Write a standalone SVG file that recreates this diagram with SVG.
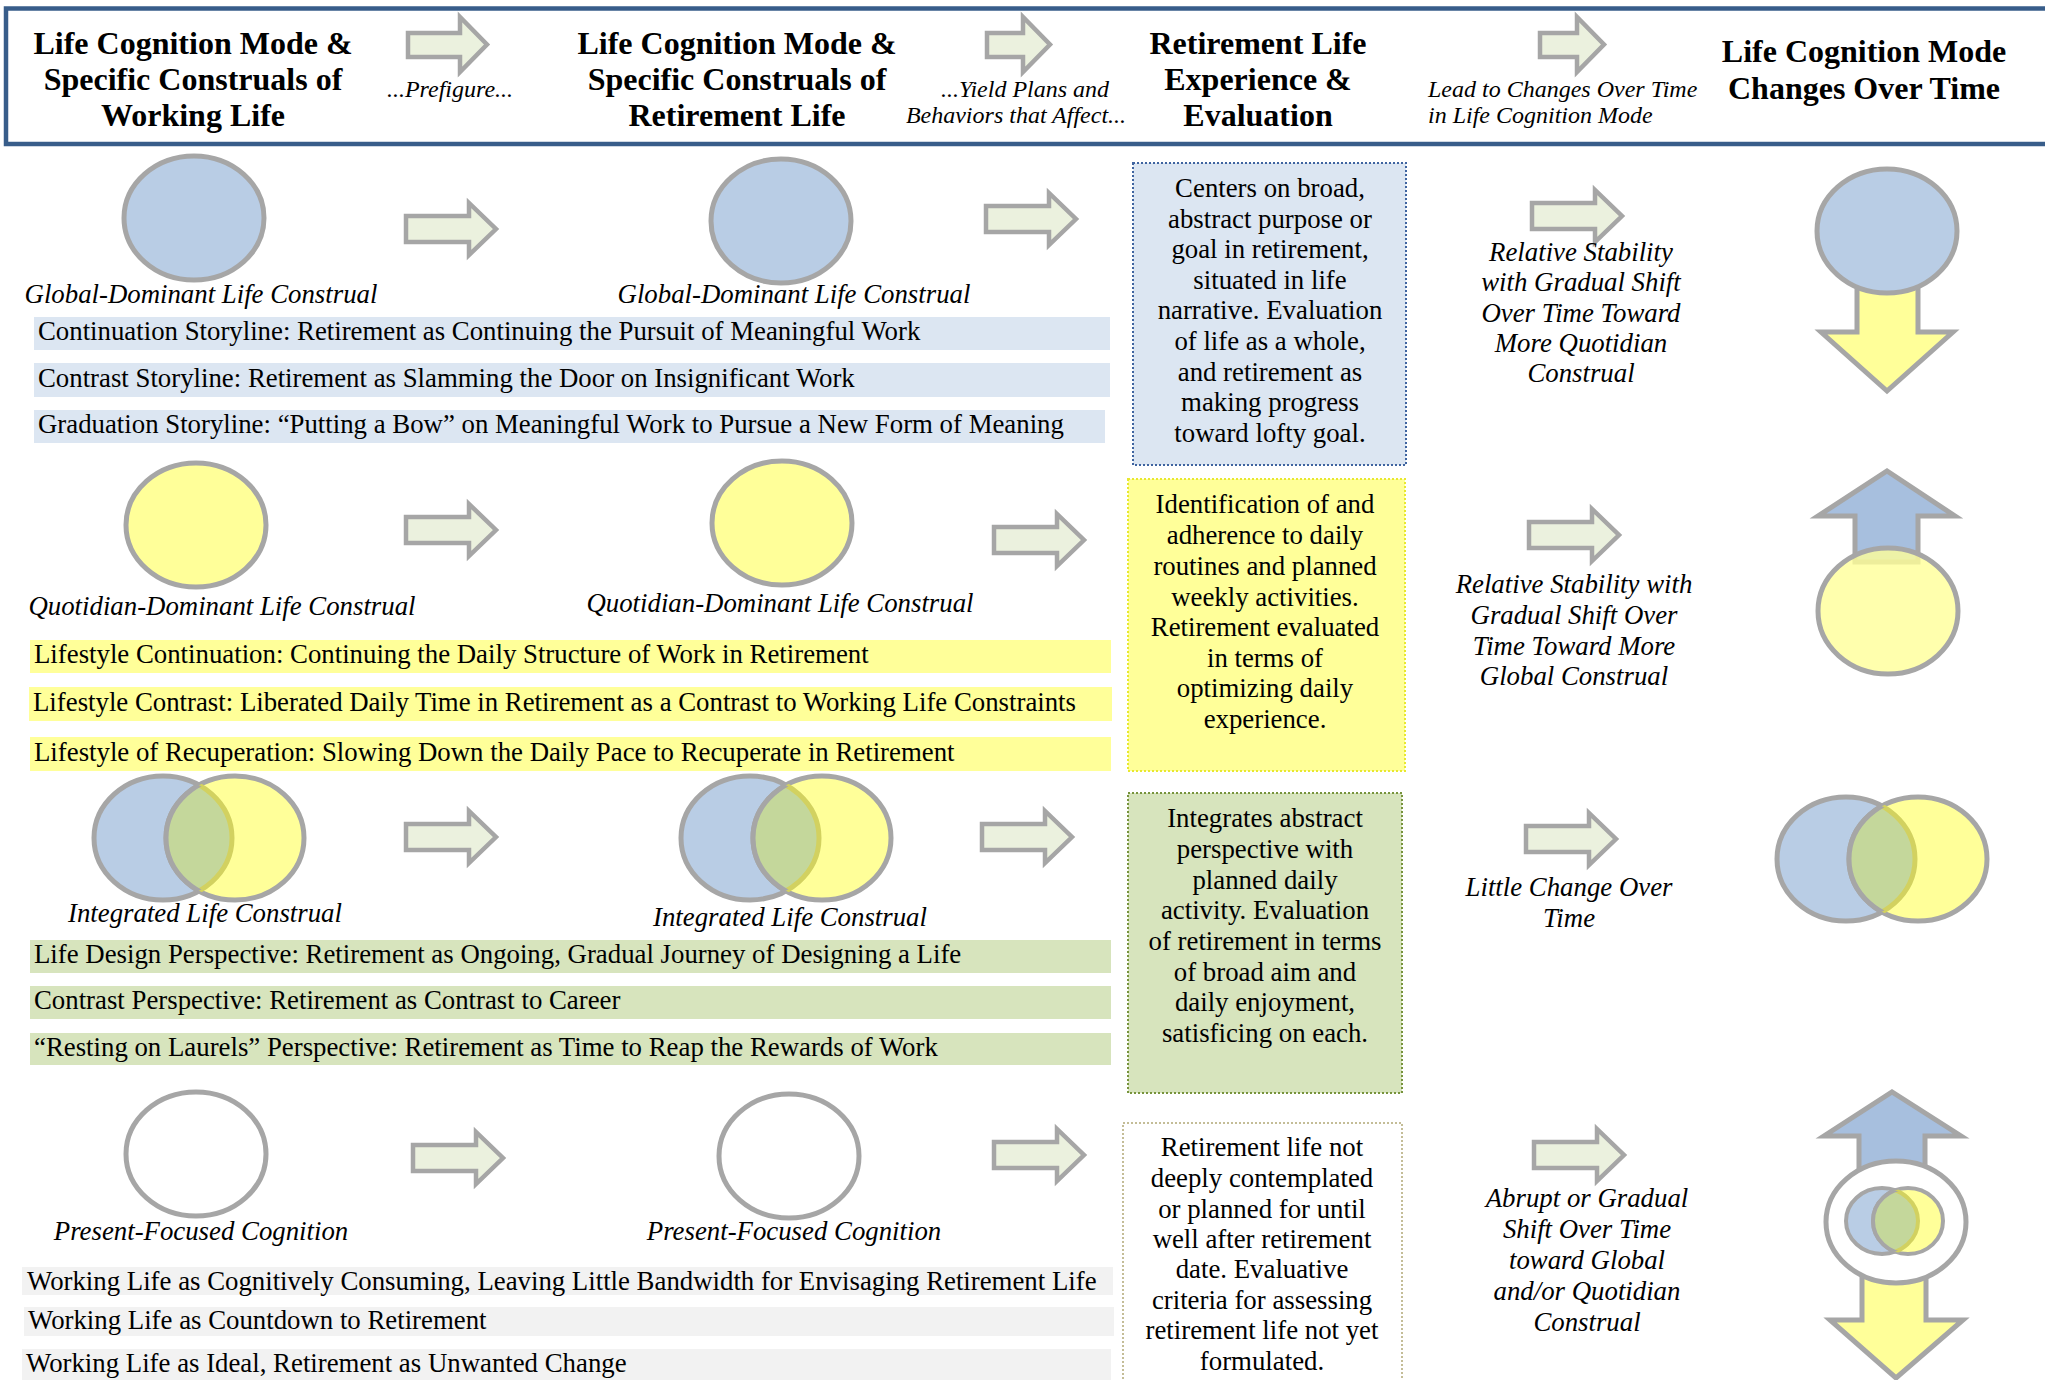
<svg xmlns="http://www.w3.org/2000/svg" width="2045" height="1380" viewBox="0 0 2045 1380">
<style>
text{font-family:"Liberation Serif","Times New Roman",serif;fill:#000}
.hb{font-size:32px;font-weight:bold;text-anchor:middle}
.hi{font-size:24px;font-style:italic}
.lab{font-size:26.8px;font-style:italic;text-anchor:middle}
.bar{font-size:26.8px}
.desc{font-size:26.8px;text-anchor:middle}
.arr{fill:#ebf1de;stroke:#a6a6a6;stroke-width:4.5;stroke-linejoin:miter}
.eb{fill:#b9cde5;stroke:#a6a6a6;stroke-width:5}
.ey{fill:#ffff99;stroke:#a6a6a6;stroke-width:5}
.ew{fill:#ffffff;stroke:#a6a6a6;stroke-width:5}
.upb{fill:#a7bfde;stroke:#a6a6a6;stroke-width:5}
.dny{fill:#ffff99;stroke:#a6a6a6;stroke-width:5}
</style>
<defs>
<path id="ra" d="M0,-13 H63 V-26 L90,0 L63,26 V13 H0 Z"/>
<clipPath id="clipB"><ellipse cx="-36" cy="0" rx="69" ry="62"/></clipPath>
<clipPath id="clipY"><ellipse cx="36" cy="0" rx="69" ry="62"/></clipPath>
<g id="venn">
<ellipse cx="-36" cy="0" rx="69" ry="62" class="eb"/>
<ellipse cx="36" cy="0" rx="69" ry="62" class="ey"/>
<ellipse cx="36" cy="0" rx="69" ry="62" fill="#c4d79b" clip-path="url(#clipB)"/>
<ellipse cx="-36" cy="0" rx="69" ry="62" fill="none" stroke="#d2d160" stroke-width="5" clip-path="url(#clipY)"/>
<ellipse cx="36" cy="0" rx="69" ry="62" fill="none" stroke="#a6a6a6" stroke-width="5" clip-path="url(#clipB)"/>
</g>
<clipPath id="sclipB"><ellipse cx="-13" cy="0" rx="36" ry="33"/></clipPath>
<clipPath id="sclipY"><ellipse cx="13" cy="0" rx="35" ry="33"/></clipPath>
</defs>
<rect width="2045" height="1380" fill="#ffffff"/>

<g id="header">
<rect x="6" y="8.5" width="2050" height="135.5" fill="#ffffff" stroke="#385d8a" stroke-width="4.5"/>
<g id="h-col1">
<text class="hb" x="193" y="54">Life Cognition Mode &amp;</text>
<text class="hb" x="193" y="90">Specific Construals of</text>
<text class="hb" x="193" y="126">Working Life</text>
</g>
<g id="h-col2">
<text class="hb" x="737" y="54">Life Cognition Mode &amp;</text>
<text class="hb" x="737" y="90">Specific Construals of</text>
<text class="hb" x="737" y="126">Retirement Life</text>
</g>
<g id="h-col3">
<text class="hb" x="1258" y="54">Retirement Life</text>
<text class="hb" x="1258" y="90">Experience &amp;</text>
<text class="hb" x="1258" y="126">Evaluation</text>
</g>
<g id="h-col4">
<text class="hb" x="1864" y="62">Life Cognition Mode</text>
<text class="hb" x="1864" y="99">Changes Over Time</text>
</g>
<g id="h-links">
<text class="hi" x="450" y="97" text-anchor="middle">...Prefigure...</text>
<text class="hi" x="1025" y="97" text-anchor="middle">...Yield Plans and</text>
<text class="hi" x="1016" y="123" text-anchor="middle">Behaviors that Affect...</text>
<text class="hi" x="1428" y="97">Lead to Changes Over Time</text>
<text class="hi" x="1428" y="123">in Life Cognition Mode</text>
</g>
</g>

<g id="connectors">
<path class="arr" d="M408,33 H460 V17 L487,44.5 L460,72 V57 H408 Z"/>
<path class="arr" d="M987,33 H1023 V17 L1050,44.5 L1023,72 V57 H987 Z"/>
<path class="arr" d="M1540,33 H1577 V17 L1604,44.5 L1577,72 V57 H1540 Z"/>
<use href="#ra" class="arr" transform="translate(406,229)"/>
<use href="#ra" class="arr" transform="translate(986,219)"/>
<use href="#ra" class="arr" transform="translate(1532,216)"/>
<use href="#ra" class="arr" transform="translate(406,530)"/>
<use href="#ra" class="arr" transform="translate(994,540)"/>
<use href="#ra" class="arr" transform="translate(1529,535)"/>
<use href="#ra" class="arr" transform="translate(406,837)"/>
<use href="#ra" class="arr" transform="translate(982,837)"/>
<use href="#ra" class="arr" transform="translate(1526,839)"/>
<use href="#ra" class="arr" transform="translate(413,1158)"/>
<use href="#ra" class="arr" transform="translate(994,1155)"/>
<use href="#ra" class="arr" transform="translate(1534,1155)"/>
</g>

<!-- Row 1: Global -->
<g id="r1-work">
<ellipse class="eb" cx="194" cy="218" rx="70" ry="62"/>
<text class="lab" x="201" y="303">Global-Dominant Life Construal</text>
</g>
<g id="r1-ret">
<ellipse class="eb" cx="781" cy="221" rx="70" ry="62"/>
<text class="lab" x="794" y="303">Global-Dominant Life Construal</text>
</g>
<g id="r1-bars">
<rect x="34" y="317" width="1076" height="33" fill="#dce6f2"/>
<text class="bar" x="38" y="340">Continuation Storyline: Retirement as Continuing the Pursuit of Meaningful Work</text>
<rect x="34" y="363" width="1076" height="34" fill="#dce6f2"/>
<text class="bar" x="38" y="387">Contrast Storyline: Retirement as Slamming the Door on Insignificant Work</text>
<rect x="34" y="410" width="1071" height="33" fill="#dce6f2"/>
<text class="bar" x="38" y="433">Graduation Storyline: “Putting a Bow” on Meaningful Work to Pursue a New Form of Meaning</text>
</g>
<g id="r1-eval">
<rect x="1133" y="163" width="273" height="302" fill="#dce6f2" stroke="#3f64a0" stroke-width="2" stroke-dasharray="2 2"/>
<text class="desc" x="1270" y="197">Centers on broad,</text>
<text class="desc" x="1270" y="228">abstract purpose or</text>
<text class="desc" x="1270" y="258">goal in retirement,</text>
<text class="desc" x="1270" y="289">situated in life</text>
<text class="desc" x="1270" y="319">narrative. Evaluation</text>
<text class="desc" x="1270" y="350">of life as a whole,</text>
<text class="desc" x="1270" y="381">and retirement as</text>
<text class="desc" x="1270" y="411">making progress</text>
<text class="desc" x="1270" y="442">toward lofty goal.</text>
</g>
<g id="r1-change-label">
<text class="lab" x="1581" y="261">Relative Stability</text>
<text class="lab" x="1581" y="291">with Gradual Shift</text>
<text class="lab" x="1581" y="322">Over Time Toward</text>
<text class="lab" x="1581" y="352">More Quotidian</text>
<text class="lab" x="1581" y="382">Construal</text>
</g>
<g id="r1-change">
<path class="dny" d="M1857,275 V332 H1821 L1887,391 L1953,332 H1918 V275 Z"/>
<ellipse class="eb" cx="1887" cy="231" rx="70" ry="62"/>
</g>

<!-- Row 2: Quotidian -->
<g id="r2-work">
<ellipse class="ey" cx="196" cy="525" rx="70" ry="62"/>
<text class="lab" x="222" y="615">Quotidian-Dominant Life Construal</text>
</g>
<g id="r2-ret">
<ellipse class="ey" cx="782" cy="523" rx="70" ry="62"/>
<text class="lab" x="780" y="612">Quotidian-Dominant Life Construal</text>
</g>
<g id="r2-bars">
<rect x="30" y="640" width="1081" height="33" fill="#ffff99"/>
<text class="bar" x="34" y="663">Lifestyle Continuation: Continuing the Daily Structure of Work in Retirement</text>
<rect x="29" y="687" width="1083" height="34" fill="#ffff99"/>
<text class="bar" x="33" y="711">Lifestyle Contrast: Liberated Daily Time in Retirement as a Contrast to Working Life Constraints</text>
<rect x="30" y="737" width="1081" height="34" fill="#ffff99"/>
<text class="bar" x="34" y="761">Lifestyle of Recuperation: Slowing Down the Daily Pace to Recuperate in Retirement</text>
</g>
<g id="r2-eval">
<rect x="1128" y="479" width="277" height="292" fill="#ffff99" stroke="#e8e830" stroke-width="2" stroke-dasharray="2 2"/>
<text class="desc" x="1265" y="513">Identification of and</text>
<text class="desc" x="1265" y="544">adherence to daily</text>
<text class="desc" x="1265" y="575">routines and planned</text>
<text class="desc" x="1265" y="606">weekly activities.</text>
<text class="desc" x="1265" y="636">Retirement evaluated</text>
<text class="desc" x="1265" y="667">in terms of</text>
<text class="desc" x="1265" y="697">optimizing daily</text>
<text class="desc" x="1265" y="728">experience.</text>
</g>
<g id="r2-change-label">
<text class="lab" x="1574" y="593">Relative Stability with</text>
<text class="lab" x="1574" y="624">Gradual Shift Over</text>
<text class="lab" x="1574" y="655">Time Toward More</text>
<text class="lab" x="1574" y="685">Global Construal</text>
</g>
<g id="r2-change">
<path class="upb" d="M1855,562 V516 H1818 L1887,471 L1955,516 H1918 V562 Z"/>
<ellipse cx="1888" cy="611" rx="70" ry="63" fill="#ffff99" fill-opacity="0.8" stroke="#a6a6a6" stroke-width="5"/>
</g>

<!-- Row 3: Integrated -->
<g id="r3-work">
<use href="#venn" transform="translate(199,838)"/>
<text class="lab" x="205" y="922">Integrated Life Construal</text>
</g>
<g id="r3-ret">
<use href="#venn" transform="translate(786,838)"/>
<text class="lab" x="790" y="926">Integrated Life Construal</text>
</g>
<g id="r3-bars">
<rect x="30" y="940" width="1081" height="33" fill="#d7e4bd"/>
<text class="bar" x="34" y="963">Life Design Perspective: Retirement as Ongoing, Gradual Journey of Designing a Life</text>
<rect x="30" y="986" width="1081" height="33" fill="#d7e4bd"/>
<text class="bar" x="34" y="1009">Contrast Perspective: Retirement as Contrast to Career</text>
<rect x="30" y="1033" width="1081" height="32" fill="#d7e4bd"/>
<text class="bar" x="34" y="1056">“Resting on Laurels” Perspective: Retirement as Time to Reap the Rewards of Work</text>
</g>
<g id="r3-eval">
<rect x="1128" y="793" width="274" height="300" fill="#d7e4bd" stroke="#77933c" stroke-width="2" stroke-dasharray="2 2"/>
<text class="desc" x="1265" y="827">Integrates abstract</text>
<text class="desc" x="1265" y="858">perspective with</text>
<text class="desc" x="1265" y="889">planned daily</text>
<text class="desc" x="1265" y="919">activity. Evaluation</text>
<text class="desc" x="1265" y="950">of retirement in terms</text>
<text class="desc" x="1265" y="981">of broad aim and</text>
<text class="desc" x="1265" y="1011">daily enjoyment,</text>
<text class="desc" x="1265" y="1042">satisficing on each.</text>
</g>
<g id="r3-change-label">
<text class="lab" x="1569" y="896">Little Change Over</text>
<text class="lab" x="1569" y="927">Time</text>
</g>
<g id="r3-change">
<use href="#venn" transform="translate(1882,859)"/>
</g>

<!-- Row 4: Present-focused -->
<g id="r4-work">
<ellipse class="ew" cx="196" cy="1154" rx="70" ry="62"/>
<text class="lab" x="201" y="1240">Present-Focused Cognition</text>
</g>
<g id="r4-ret">
<ellipse class="ew" cx="789" cy="1156" rx="70" ry="62"/>
<text class="lab" x="794" y="1240">Present-Focused Cognition</text>
</g>
<g id="r4-bars">
<rect x="22" y="1267" width="1091" height="28" fill="#f2f2f2"/>
<text class="bar" x="27" y="1290">Working Life as Cognitively Consuming, Leaving Little Bandwidth for Envisaging Retirement Life</text>
<rect x="24" y="1307" width="1090" height="29" fill="#f2f2f2"/>
<text class="bar" x="28" y="1329">Working Life as Countdown to Retirement</text>
<rect x="22" y="1349" width="1089" height="31" fill="#f2f2f2"/>
<text class="bar" x="26" y="1372">Working Life as Ideal, Retirement as Unwanted Change</text>
</g>
<g id="r4-eval">
<rect x="1123" y="1123" width="279" height="275" fill="#ffffff" stroke="#c4bd97" stroke-width="2" stroke-dasharray="2 2"/>
<text class="desc" x="1262" y="1156">Retirement life not</text>
<text class="desc" x="1262" y="1187">deeply contemplated</text>
<text class="desc" x="1262" y="1218">or planned for until</text>
<text class="desc" x="1262" y="1248">well after retirement</text>
<text class="desc" x="1262" y="1278">date. Evaluative</text>
<text class="desc" x="1262" y="1309">criteria for assessing</text>
<text class="desc" x="1262" y="1339">retirement life not yet</text>
<text class="desc" x="1262" y="1370">formulated.</text>
</g>
<g id="r4-change-label">
<text class="lab" x="1587" y="1207">Abrupt or Gradual</text>
<text class="lab" x="1587" y="1238">Shift Over Time</text>
<text class="lab" x="1587" y="1269">toward Global</text>
<text class="lab" x="1587" y="1300">and/or Quotidian</text>
<text class="lab" x="1587" y="1331">Construal</text>
</g>
<g id="r4-change">
<path class="upb" d="M1859,1185 V1136 H1824 L1892,1092 L1961,1136 H1925 V1185 Z"/>
<path class="dny" d="M1862,1262 V1320 H1830 L1896,1378 L1963,1320 H1926 V1262 Z"/>
<ellipse class="ew" cx="1896" cy="1222" rx="70" ry="61"/>
<g transform="translate(1895,1221)">
<ellipse cx="-13" cy="0" rx="36" ry="33" fill="#b9cde5" stroke="#a6a6a6" stroke-width="4"/>
<ellipse cx="13" cy="0" rx="35" ry="33" fill="#ffff99" stroke="#a6a6a6" stroke-width="4"/>
<ellipse cx="13" cy="0" rx="35" ry="33" fill="#c4d79b" clip-path="url(#sclipB)"/>
<ellipse cx="-13" cy="0" rx="36" ry="33" fill="none" stroke="#d2d160" stroke-width="4" clip-path="url(#sclipY)"/>
<ellipse cx="13" cy="0" rx="35" ry="33" fill="none" stroke="#a6a6a6" stroke-width="4" clip-path="url(#sclipB)"/>
</g>
</g>
</svg>
